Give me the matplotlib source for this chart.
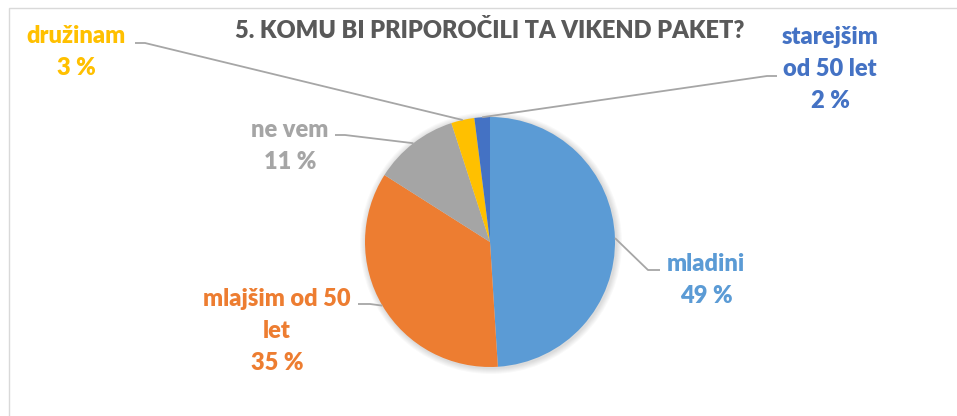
import matplotlib
matplotlib.use("Agg")
from matplotlib import pyplot as plt
from matplotlib.patches import Circle, Rectangle
import numpy as np

kategorije = ["mladini", "mlajšim od 50 let", "ne vem", "družinam", "starejšim od 50 let"]
oznake = ["mladini", "mlajšim od 50\nlet", "ne vem", "družinam", "starejšim\nod 50 let"]
odstotki = [49, 35, 11, 3, 2]
barve = ["#5B9BD5", "#ED7D31", "#A5A5A5", "#FFC000", "#4472C4"]
naslov = "5. KOMU BI PRIPOROČILI TA VIKEND PAKET?"

W, H = 957, 416
fig = plt.figure(figsize=(W / 100, H / 100), dpi=100)
ax = fig.add_axes([0, 0, 1, 1])

cx, cy, r = 490, H - 242, 125

# mehka senca za tortico
for i in range(6):
    ax.add_patch(Circle((cx + 1, cy - 1), r + 1 + i, color="#000000",
                        alpha=0.025, lw=0, zorder=0))

wedges, _ = ax.pie(odstotki, colors=barve, startangle=90, counterclock=False,
                   center=(cx, cy), radius=r, wedgeprops=dict(linewidth=0))

# polozaji besedil (sredina bloka) in zacetek crte
polozaji = {
    "mladini": ((706, 280), (660, 270), (648, 270)),
    "mlajšim od 50 let": ((277, 331), (358, 304), (370, 304)),
    "ne vem": ((290, 146), (335, 135), (345, 135)),
    "družinam": ((76, 52), (135, 43), (145, 43)),
    "starejšim od 50 let": ((830, 69), (777, 76), (767, 76)),
}

pisava = "Lato"
for w, ime, ozn, p, c in zip(wedges, kategorije, oznake, odstotki, barve):
    (tx, ty), (l1x, l1y), (l2x, l2y) = polozaji[ime]
    ax.text(tx, H - ty, f"{ozn}\n{p} %", color=c, fontsize=17, fontweight="heavy",
            family=pisava, ha="center", va="center", linespacing=1.55)
    kot = np.deg2rad((w.theta1 + w.theta2) / 2)
    ex, ey = cx + r * np.cos(kot), cy + r * np.sin(kot)
    ax.plot([l1x, l2x, ex], [H - l1y, H - l2y, ey], color="#A6A6A6", lw=1.3,
            solid_capstyle="butt", zorder=1)

ax.text(490, H - 30, naslov, color="#595959", fontsize=17, fontweight="heavy",
        family=pisava, ha="center", va="center")

ax.add_patch(Rectangle((9, -10), W, H - 8 + 10, fill=False, ec="#D9D9D9", lw=1))

ax.set_xlim(0, W)
ax.set_ylim(0, H)
ax.set_aspect("auto")
ax.axis("off")
fig.savefig("out.png", dpi=100)
